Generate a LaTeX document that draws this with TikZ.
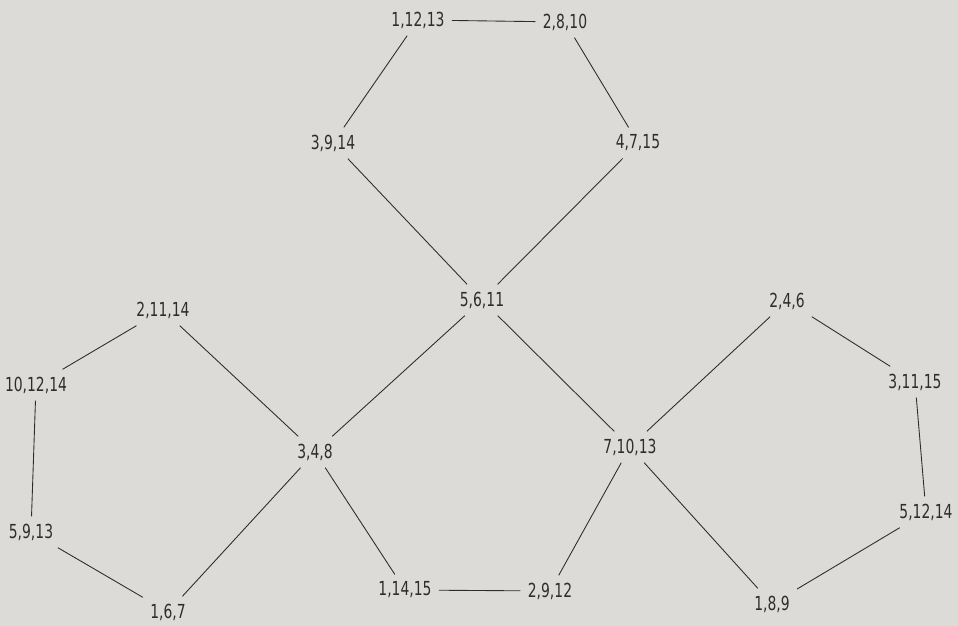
\documentclass[tikz,border=0pt]{standalone}
\usepackage{fontspec}
\setmainfont{DejaVu Sans}[FakeStretch=0.72]
\definecolor{paper}{RGB}{221,219,215}
\definecolor{ink}{RGB}{45,45,45}
\begin{document}
\begin{tikzpicture}[x=0.02cm, y=-0.02cm,
  triple/.style={inner sep=4pt, font=\fontsize{11}{13}\selectfont, text=ink},
  edge/.style={draw=ink, line width=0.5pt}]
\fill[paper] (0,0) rectangle (958,626);
\useasboundingbox (0,0) rectangle (958,626);
\node[triple] (t11213) at (418,20) {1,12,13};
\node[triple] (t2810) at (565,22) {2,8,10};
\node[triple] (t3914) at (333,143) {3,9,14};
\node[triple] (t4715) at (638,143) {4,7,15};
\node[triple] (t5611) at (482,300) {5,6,11};
\node[triple] (t21114) at (163,310) {2,11,14};
\node[triple] (t101214) at (36,385) {10,12,14};
\node[triple] (t5913) at (31,532) {5,9,13};
\node[triple] (t167) at (168,612) {1,6,7};
\node[triple] (t348) at (315,452) {3,4,8};
\node[triple] (t11415) at (405,590) {1,14,15};
\node[triple] (t2912) at (550,591) {2,9,12};
\node[triple] (t71013) at (630,447) {7,10,13};
\node[triple] (t189) at (772,604) {1,8,9};
\node[triple] (t246) at (787,301) {2,4,6};
\node[triple] (t31115) at (915,382) {3,11,15};
\node[triple] (t51214) at (926,512) {5,12,14};
% top hexagon
\draw[edge] (t11213) -- (t2810);
\draw[edge] (t11213) -- (t3914);
\draw[edge] (t2810) -- (t4715);
\draw[edge] (t3914) -- (t5611);
\draw[edge] (t4715) -- (t5611);
\draw[edge] (t5611) -- (t348);
\draw[edge] (t5611) -- (t71013);
% left hexagon
\draw[edge] (t21114) -- (t101214);
\draw[edge] (t21114) -- (t348);
\draw[edge] (t101214) -- (t5913);
\draw[edge] (t5913) -- (t167);
\draw[edge] (t167) -- (t348);
% bottom
\draw[edge] (t348) -- (t11415);
\draw[edge] (t11415) -- (t2912);
\draw[edge] (t2912) -- (t71013);
% right hexagon
\draw[edge] (t71013) -- (t246);
\draw[edge] (t71013) -- (t189);
\draw[edge] (t246) -- (t31115);
\draw[edge] (t31115) -- (t51214);
\draw[edge] (t51214) -- (t189);
\end{tikzpicture}
\end{document}
